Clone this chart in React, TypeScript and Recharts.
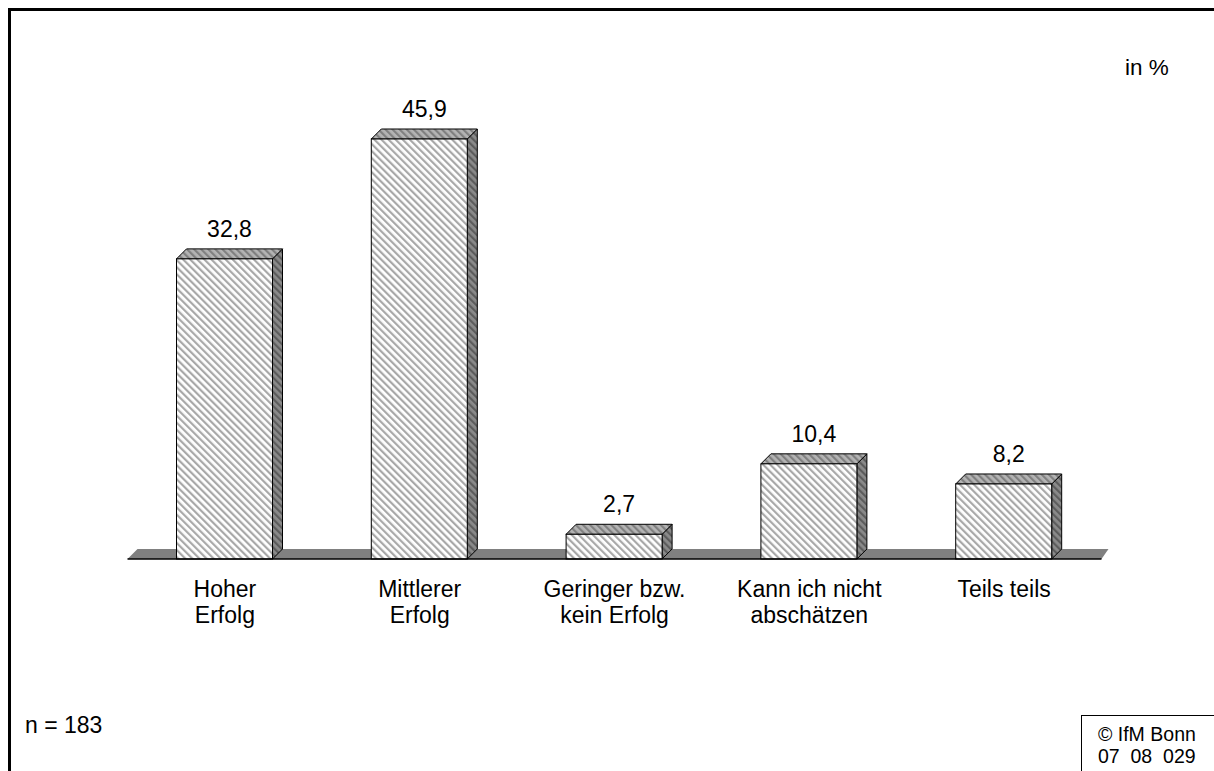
import { BarChart, Bar, XAxis, YAxis, LabelList, ReferenceArea } from 'recharts';

// Erfolgseinschätzung, Angaben in %
const categories = ['Hoher Erfolg', 'Mittlerer Erfolg', 'Geringer bzw. kein Erfolg', 'Kann ich nicht abschätzen', 'Teils teils'];
const categoryLines = [
    ['Hoher', 'Erfolg'],
    ['Mittlerer', 'Erfolg'],
    ['Geringer bzw.', 'kein Erfolg'],
    ['Kann ich nicht', 'abschätzen'],
    ['Teils teils'],
];
const shares = [32.8, 45.9, 2.7, 10.4, 8.2];

const data = categories.map((name, i) => ({ name, value: shares[i], lines: categoryLines[i] }));

const FONT = '"Liberation Sans", Arial, sans-serif';
const DEPTH = 10;

const fmt = (v: number) => v.toFixed(1).replace('.', ',');

const Bar3D = (props: any) => {
    const { x, y, width: w, height: h } = props;
    const d = DEPTH;
    return (
        <g>
            <polygon
                points={`${x + w},${y} ${x + w + d},${y - d} ${x + w + d},${y + h - d} ${x + w},${y + h}`}
                fill="url(#sideHatch)" stroke="#000" strokeWidth={1}
            />
            <polygon
                points={`${x},${y} ${x + d},${y - d} ${x + w + d},${y - d} ${x + w},${y}`}
                fill="url(#topHatch)" stroke="#000" strokeWidth={1}
            />
            <rect x={x} y={y} width={w} height={h} fill="url(#frontHatch)" stroke="#000" strokeWidth={1} />
        </g>
    );
};

const Floor = (props: any) => {
    const { x, y, width: w, height: h } = props;
    const bottom = y + h;
    return (
        <polygon
            points={`${x},${bottom} ${x + w},${bottom} ${x + w + 7},${bottom - DEPTH} ${x + DEPTH},${bottom - DEPTH}`}
            fill="#808080" stroke="none"
        />
    );
};

const CategoryTick = (props: any) => {
    const { x, y, index } = props;
    const lines = categoryLines[index] || [];
    return (
        <text x={x} y={y} textAnchor="middle" fontFamily={FONT} fontSize={23} fill="#000">
            {lines.map((l, i) => (
                <tspan key={i} x={x} dy={i === 0 ? 30 : 26}>{l}</tspan>
            ))}
        </text>
    );
};

const ValueLabel = (props: any) => {
    const { x, y, width, value } = props;
    return (
        <text x={x + width / 2 + DEPTH / 2} y={y - DEPTH - 12} textAnchor="middle" fontFamily={FONT} fontSize={23} fill="#000">
            {fmt(value)}
        </text>
    );
};

export default function App() {
    return (
        <div style={{ position: 'absolute', left: 0, top: 0, width: 1214, height: 771, background: '#fff', overflow: 'hidden' }}>
            <div style={{ position: 'absolute', left: 8, top: 8, right: -10, bottom: -10, borderTop: '3px solid #000', borderLeft: '3px solid #000' }} />
            <BarChart
                width={1214}
                height={771}
                data={data}
                margin={{ top: 101.5, right: 112.5, left: 127.5, bottom: 152 }}
                barSize={96}
                style={{ position: 'absolute', left: 0, top: 0 }}
            >
                <defs>
                    <pattern id="frontHatch" patternUnits="userSpaceOnUse" width={5} height={5} patternTransform="rotate(-45)">
                        <rect width={5} height={5} fill="#fff" />
                        <rect width={2.2} height={5} fill="#a8a8a8" />
                    </pattern>
                    <pattern id="topHatch" patternUnits="userSpaceOnUse" width={5} height={5} patternTransform="rotate(-45)">
                        <rect width={5} height={5} fill="#b4b4b4" />
                        <rect width={2.2} height={5} fill="#808080" />
                    </pattern>
                    <pattern id="sideHatch" patternUnits="userSpaceOnUse" width={5} height={5} patternTransform="rotate(-45)">
                        <rect width={5} height={5} fill="#8a8a8a" />
                        <rect width={2.2} height={5} fill="#5c5c5c" />
                    </pattern>
                </defs>
                <XAxis
                    dataKey="name"
                    axisLine={{ stroke: '#000', strokeWidth: 1.5 }}
                    tickLine={false}
                    tick={<CategoryTick />}
                    height={60}
                    interval={0}
                />
                <YAxis domain={[0, 50]} hide />
                <ReferenceArea y1={0} y2={1.1} ifOverflow="visible" shape={<Floor />} />
                <Bar dataKey="value" shape={<Bar3D />} isAnimationActive={false}>
                    <LabelList dataKey="value" content={<ValueLabel />} />
                </Bar>
            </BarChart>
            <svg width={1214} height={771} style={{ position: 'absolute', left: 0, top: 0, pointerEvents: 'none' }}>
                <text x={1125} y={75} fontFamily={FONT} fontSize={22.5} fill="#000">in %</text>
                <text x={25} y={733} fontFamily={FONT} fontSize={23} fill="#000">n = 183</text>
                <rect x={1081.5} y={715.5} width={150} height={70} fill="#fff" stroke="#000" strokeWidth={1} />
                <text x={1098} y={741} fontFamily={FONT} fontSize={19.5} fill="#000">© IfM Bonn</text>
                <text x={1098} y={763} fontFamily={FONT} fontSize={19.5} fill="#000" style={{ whiteSpace: 'pre' }}>07  08  029</text>
            </svg>
        </div>
    );
}
